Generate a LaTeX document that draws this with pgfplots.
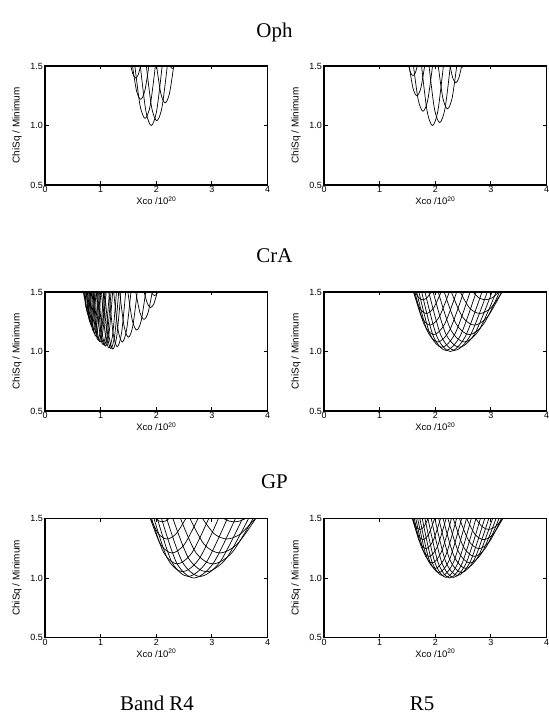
\documentclass[border=0pt]{standalone}
\usepackage{fontspec}
\setmainfont{Liberation Serif}
\setsansfont{Liberation Sans}
\newfontfamily\hv{Liberation Sans}
\usepackage{pgfplots}
\pgfplotsset{compat=1.18}

\pgfplotsset{
  chisq/.style={
    scale only axis, width=222.5bp, height=119bp,
    anchor=south west,
    xmin=0, xmax=4, ymin=0.5, ymax=1.5,
    xtick={0,1,2,3,4}, ytick={0.5,1.0,1.5},
    yticklabel style={/pgf/number format/fixed,/pgf/number format/fixed zerofill,/pgf/number format/precision=1},
    /pgf/number format/assume math mode=true,
    tick align=inside, major tick length=3.5bp,
    axis line style={line width=1.1bp}, tick style={line width=0.8bp, black},
    tick label style={font=\hv\fontsize{9}{9}\selectfont},
    xticklabel style={anchor=north, inner sep=0pt, yshift=-1.5bp},
    yticklabel style={anchor=east, inner sep=0pt, xshift=-2bp},
    xlabel={Xco /10\textsuperscript{20}},
    ylabel={ChiSq / Minimum},
    every axis x label/.style={at={(axis description cs:0.5,-0.168)}, anchor=base, font=\hv\fontsize{9.5}{9.5}\selectfont},
    every axis y label/.style={at={(axis description cs:-0.126,0.5)}, anchor=center, rotate=90, font=\hv\fontsize{10}{10}\selectfont},
  },
  cv/.style={black, line width=0.7bp, smooth, no marks},
}

\begin{document}
\begin{tikzpicture}
\tikzset{ttl/.style={font=\rmfamily\fontsize{21}{21}\selectfont, anchor=base, inner sep=0pt}}
\node[ttl] at (274.5bp,677.5bp) {Oph};
\node[ttl] at (274.5bp,452bp) {CrA};
\node[ttl] at (274.5bp,226bp) {GP};
\node[ttl] at (157bp,4.5bp) {Band R4};
\node[ttl] at (422bp,4.5bp) {R5};

% Oph, R4
\begin{axis}[chisq, at={(45bp,530bp)}]
\addplot[cv] coordinates {(1.714,1.5)(1.812,1.125)(1.91,1)(2.008,1.125)(2.106,1.5)};
\addplot[cv] coordinates {(1.822,1.5)(1.916,1.155)(2.01,1.04)(2.104,1.155)(2.198,1.5)};
\addplot[cv] coordinates {(1.616,1.5)(1.708,1.17)(1.80,1.06)(1.892,1.17)(1.984,1.5)};
\addplot[cv] coordinates {(1.573,1.5)(1.646,1.29)(1.72,1.22)(1.794,1.29)(1.867,1.5)};
\addplot[cv] coordinates {(2.006,1.5)(2.083,1.268)(2.16,1.19)(2.237,1.268)(2.314,1.5)};
\addplot[cv] coordinates {(1.542,1.5)(1.586,1.425)(1.63,1.4)(1.674,1.425)(1.718,1.5)};
\addplot[cv] coordinates {(2.251,1.5)(2.27,1.485)(2.29,1.48)(2.31,1.485)(2.329,1.5)};
\end{axis}

% Oph, R5
\begin{axis}[chisq, at={(324bp,530bp)}]
\addplot[cv] coordinates {(1.754,1.5)(1.852,1.125)(1.95,1)(2.048,1.125)(2.146,1.5)};
\addplot[cv] coordinates {(1.889,1.5)(1.984,1.144)(2.08,1.025)(2.176,1.144)(2.271,1.5)};
\addplot[cv] coordinates {(1.609,1.5)(1.694,1.215)(1.78,1.12)(1.866,1.215)(1.951,1.5)};
\addplot[cv] coordinates {(2.054,1.5)(2.137,1.23)(2.22,1.14)(2.303,1.23)(2.386,1.5)};
\addplot[cv] coordinates {(1.531,1.5)(1.60,1.313)(1.67,1.25)(1.74,1.313)(1.809,1.5)};
\addplot[cv] coordinates {(2.266,1.5)(2.318,1.395)(2.37,1.36)(2.422,1.395)(2.474,1.5)};
\addplot[cv] coordinates {(1.522,1.5)(1.561,1.44)(1.60,1.42)(1.639,1.44)(1.678,1.5)};
\addplot[cv] coordinates {(2.452,1.5)(2.466,1.4925)(2.48,1.49)(2.494,1.4925)(2.508,1.5)};
\end{axis}

% CrA, R4
\begin{axis}[chisq, at={(45bp,304bp)}]
\addplot[cv] coordinates {(0.69,1.5)(0.705,1.455)(0.72,1.44)(0.735,1.455)(0.75,1.5)};
\addplot[cv] coordinates {(0.702,1.5)(0.726,1.395)(0.75,1.36)(0.774,1.395)(0.798,1.5)};
\addplot[cv] coordinates {(0.711,1.5)(0.738,1.373)(0.765,1.33)(0.792,1.373)(0.819,1.5)};
\addplot[cv] coordinates {(0.72,1.5)(0.75,1.35)(0.78,1.30)(0.81,1.35)(0.84,1.5)};
\addplot[cv] coordinates {(0.741,1.5)(0.775,1.313)(0.81,1.25)(0.845,1.313)(0.879,1.5)};
\addplot[cv] coordinates {(0.751,1.5)(0.788,1.298)(0.825,1.23)(0.862,1.298)(0.899,1.5)};
\addplot[cv] coordinates {(0.762,1.5)(0.801,1.283)(0.84,1.21)(0.879,1.283)(0.918,1.5)};
\addplot[cv] coordinates {(0.784,1.5)(0.827,1.253)(0.87,1.17)(0.913,1.253)(0.956,1.5)};
\addplot[cv] coordinates {(0.80,1.5)(0.845,1.238)(0.89,1.15)(0.935,1.238)(0.98,1.5)};
\addplot[cv] coordinates {(0.815,1.5)(0.862,1.223)(0.91,1.13)(0.958,1.223)(1.005,1.5)};
\addplot[cv] coordinates {(0.847,1.5)(0.898,1.2)(0.95,1.1)(1.002,1.2)(1.053,1.5)};
\addplot[cv] coordinates {(0.864,1.5)(0.917,1.193)(0.97,1.09)(1.023,1.193)(1.077,1.5)};
\addplot[cv] coordinates {(0.88,1.5)(0.935,1.185)(0.99,1.08)(1.045,1.185)(1.10,1.5)};
\addplot[cv] coordinates {(0.922,1.5)(0.981,1.17)(1.04,1.06)(1.099,1.17)(1.158,1.5)};
\addplot[cv] coordinates {(0.943,1.5)(1.004,1.164)(1.065,1.052)(1.126,1.164)(1.187,1.5)};
\addplot[cv] coordinates {(0.964,1.5)(1.027,1.159)(1.09,1.045)(1.153,1.159)(1.216,1.5)};
\addplot[cv] coordinates {(1.015,1.5)(1.082,1.148)(1.15,1.03)(1.218,1.148)(1.285,1.5)};
\addplot[cv] coordinates {(1.045,1.5)(1.115,1.143)(1.185,1.024)(1.255,1.143)(1.325,1.5)};
\addplot[cv] coordinates {(1.075,1.5)(1.147,1.14)(1.22,1.02)(1.293,1.14)(1.365,1.5)};
\addplot[cv] coordinates {(1.149,1.5)(1.224,1.155)(1.30,1.04)(1.376,1.155)(1.451,1.5)};
\addplot[cv] coordinates {(1.235,1.5)(1.312,1.185)(1.39,1.08)(1.468,1.185)(1.545,1.5)};
\addplot[cv] coordinates {(1.342,1.5)(1.421,1.215)(1.50,1.12)(1.579,1.215)(1.658,1.5)};
\addplot[cv] coordinates {(1.49,1.5)(1.57,1.26)(1.65,1.18)(1.73,1.26)(1.81,1.5)};
\addplot[cv] coordinates {(1.632,1.5)(1.706,1.328)(1.78,1.27)(1.854,1.328)(1.928,1.5)};
\addplot[cv] coordinates {(1.782,1.5)(1.841,1.403)(1.90,1.37)(1.959,1.403)(2.018,1.5)};
\addplot[cv] coordinates {(1.912,1.5)(1.941,1.478)(1.97,1.47)(1.999,1.478)(2.028,1.5)};
\end{axis}

% CrA, R5
\begin{axis}[chisq, at={(324bp,304bp)}]
\addplot[cv] coordinates {(1.8156,1.5)(2.0303,1.125)(2.2705,1)(2.5391,1.125)(2.8394,1.5)};
\addplot[cv] coordinates {(1.8840,1.5)(2.1048,1.1317)(2.3514,1.0089)(2.6269,1.1317)(2.9347,1.5)};
\addplot[cv] coordinates {(1.7566,1.5)(1.9625,1.1317)(2.1924,1.0089)(2.4493,1.1317)(2.7363,1.5)};
\addplot[cv] coordinates {(1.9630,1.5)(2.1865,1.1516)(2.4351,1.0355)(2.7123,1.1516)(3.0207,1.5)};
\addplot[cv] coordinates {(1.7066,1.5)(1.9009,1.1516)(2.1170,1.0355)(2.3580,1.1516)(2.6261,1.5)};
\addplot[cv] coordinates {(2.0544,1.5)(2.2762,1.1849)(2.5219,1.0798)(2.7941,1.1849)(3.0956,1.5)};
\addplot[cv] coordinates {(1.6653,1.5)(1.8450,1.1849)(2.0442,1.0798)(2.2648,1.1849)(2.5093,1.5)};
\addplot[cv] coordinates {(2.1615,1.5)(2.3760,1.2314)(2.6117,1.1419)(2.8708,1.2314)(3.1557,1.5)};
\addplot[cv] coordinates {(1.6336,1.5)(1.7957,1.2314)(1.9739,1.1419)(2.1697,1.2314)(2.3850,1.5)};
\addplot[cv] coordinates {(2.2892,1.5)(2.4883,1.2913)(2.7047,1.2217)(2.9400,1.2913)(3.1957,1.5)};
\addplot[cv] coordinates {(1.6132,1.5)(1.7535,1.2913)(1.9060,1.2217)(2.0718,1.2913)(2.2520,1.5)};
\addplot[cv] coordinates {(2.4488,1.5)(2.6190,1.3645)(2.8011,1.3193)(2.9958,1.3645)(3.2040,1.5)};
\addplot[cv] coordinates {(1.6090,1.5)(1.7208,1.3645)(1.8404,1.3193)(1.9684,1.3645)(2.1052,1.5)};
\addplot[cv] coordinates {(2.6754,1.5)(2.7857,1.451)(2.9008,1.4346)(3.0207,1.451)(3.1453,1.5)};
\addplot[cv] coordinates {(1.6390,1.5)(1.7066,1.451)(1.7771,1.4346)(1.8506,1.451)(1.9269,1.5)};
\end{axis}

% GP, R4
\begin{axis}[chisq, at={(45bp,77.5bp)}]
\addplot[cv] coordinates {(2.0951,1.5)(2.3686,1.125)(2.6778,1)(3.0274,1.125)(3.4226,1.5)};
\addplot[cv] coordinates {(2.1876,1.5)(2.4692,1.1348)(2.7871,1.0131)(3.1459,1.1348)(3.5509,1.5)};
\addplot[cv] coordinates {(2.0194,1.5)(2.2794,1.1348)(2.5728,1.0131)(2.9040,1.1348)(3.2779,1.5)};
\addplot[cv] coordinates {(2.2997,1.5)(2.5829,1.1644)(2.9008,1.0525)(3.2580,1.1644)(3.6590,1.5)};
\addplot[cv] coordinates {(1.9597,1.5)(2.2010,1.1644)(2.4719,1.0525)(2.7762,1.1644)(3.1180,1.5)};
\addplot[cv] coordinates {(2.4363,1.5)(2.7120,1.2136)(3.0192,1.1181)(3.3612,1.2136)(3.7415,1.5)};
\addplot[cv] coordinates {(1.9165,1.5)(2.1334,1.2136)(2.3750,1.1181)(2.6440,1.2136)(2.9432,1.5)};
\addplot[cv] coordinates {(2.6065,1.5)(2.8619,1.2824)(3.1424,1.2099)(3.4504,1.2824)(3.7886,1.5)};
\addplot[cv] coordinates {(1.8927,1.5)(2.0782,1.2824)(2.2819,1.2099)(2.5055,1.2824)(2.7511,1.5)};
\addplot[cv] coordinates {(2.8320,1.5)(3.0435,1.371)(3.2707,1.328)(3.5149,1.371)(3.7773,1.5)};
\addplot[cv] coordinates {(1.8984,1.5)(2.0401,1.371)(2.1924,1.328)(2.3561,1.371)(2.5320,1.5)};
\addplot[cv] coordinates {(3.2130,1.5)(3.3072,1.4792)(3.4042,1.4723)(3.5040,1.4792)(3.6067,1.5)};
\addplot[cv] coordinates {(1.9881,1.5)(2.0464,1.4792)(2.1064,1.4723)(2.1682,1.4792)(2.2318,1.5)};
\end{axis}

% GP, R5
\begin{axis}[chisq, at={(324bp,77.5bp)}]
\addplot[cv] coordinates {(1.8688,1.5)(2.0546,1.125)(2.2592,1)(2.4841,1.125)(2.7311,1.5)};
\addplot[cv] coordinates {(1.9277,1.5)(2.1183,1.1288)(2.3280,1.005)(2.5585,1.1288)(2.8114,1.5)};
\addplot[cv] coordinates {(1.8154,1.5)(1.9949,1.1288)(2.1924,1.005)(2.4095,1.1288)(2.6477,1.5)};
\addplot[cv] coordinates {(1.9921,1.5)(2.1861,1.1402)(2.3989,1.0202)(2.6324,1.1402)(2.8887,1.5)};
\addplot[cv] coordinates {(1.7669,1.5)(1.9389,1.1402)(2.1276,1.0202)(2.3347,1.1402)(2.5620,1.5)};
\addplot[cv] coordinates {(2.0629,1.5)(2.2581,1.1591)(2.4719,1.0454)(2.7061,1.1591)(2.9621,1.5)};
\addplot[cv] coordinates {(1.7231,1.5)(1.8861,1.1591)(2.0647,1.0454)(2.2603,1.1591)(2.4742,1.5)};
\addplot[cv] coordinates {(2.1411,1.5)(2.3352,1.1855)(2.5472,1.0806)(2.7785,1.1855)(3.0304,1.5)};
\addplot[cv] coordinates {(1.6842,1.5)(1.8369,1.1855)(2.0037,1.0806)(2.1856,1.1855)(2.3838,1.5)};
\addplot[cv] coordinates {(2.2278,1.5)(2.4181,1.2195)(2.6248,1.126)(2.8491,1.2195)(3.0926,1.5)};
\addplot[cv] coordinates {(1.6504,1.5)(1.7914,1.2195)(1.9445,1.126)(2.1107,1.2195)(2.2910,1.5)};
\addplot[cv] coordinates {(2.3247,1.5)(2.5075,1.2611)(2.7047,1.1814)(2.9174,1.2611)(3.1468,1.5)};
\addplot[cv] coordinates {(1.6219,1.5)(1.7495,1.2611)(1.8870,1.1814)(2.0354,1.2611)(2.1955,1.5)};
\addplot[cv] coordinates {(2.4354,1.5)(2.6052,1.3103)(2.7871,1.247)(2.9817,1.3103)(3.1896,1.5)};
\addplot[cv] coordinates {(1.6002,1.5)(1.7117,1.3103)(1.8312,1.247)(1.9591,1.3103)(2.0957,1.5)};
\addplot[cv] coordinates {(2.5651,1.5)(2.7142,1.367)(2.8720,1.3226)(3.0389,1.367)(3.2156,1.5)};
\addplot[cv] coordinates {(1.5872,1.5)(1.6795,1.367)(1.7771,1.3226)(1.8804,1.367)(1.9897,1.5)};
\addplot[cv] coordinates {(2.7283,1.5)(2.8417,1.4312)(2.9594,1.4082)(3.0824,1.4312)(3.2101,1.5)};
\addplot[cv] coordinates {(1.5899,1.5)(1.6560,1.4312)(1.7246,1.4082)(1.7962,1.4312)(1.8707,1.5)};
\end{axis}

\pgfresetboundingbox
\useasboundingbox (0,0) rectangle (549bp,715bp);
\end{tikzpicture}
\end{document}
